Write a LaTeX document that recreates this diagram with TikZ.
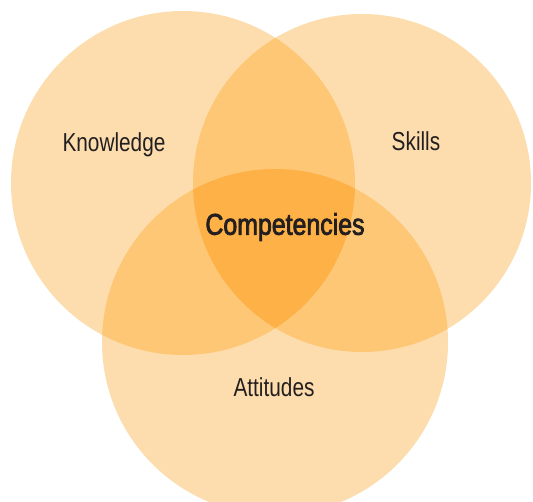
\documentclass[tikz,border=0pt]{standalone}
\usepackage{fontspec}
\setmainfont[FakeStretch=0.8]{Liberation Sans}
\newfontfamily\medfont[FakeStretch=0.83,FakeBold=2.5]{Liberation Sans}
\begin{document}
\begin{tikzpicture}[x=1pt,y=-1pt,
  lbl/.style={text=labelgray,font=\fontsize{26}{28}\selectfont,inner sep=0pt},
  centerlbl/.style={text=labelgray,font=\medfont\fontsize{30}{32}\selectfont,inner sep=0pt}]
\definecolor{singlec}{RGB}{253,221,174}
\definecolor{doublec}{RGB}{253,199,117}
\definecolor{triplec}{RGB}{253,177,70}
\definecolor{labelgray}{RGB}{35,31,32}
\def\cA{(183,183) circle[radius=172]}
\def\cB{(362,183) circle[radius=169]}
\def\cC{(275,342) circle[radius=173]}
\useasboundingbox (0,0) rectangle (533,501);
\fill[white] (0,0) rectangle (533,501);
\fill[singlec] \cA;
\fill[singlec] \cB;
\fill[singlec] \cC;
\begin{scope}\clip \cA; \fill[doublec] \cB; \fill[doublec] \cC; \end{scope}
\begin{scope}\clip \cB; \fill[doublec] \cC; \end{scope}
\begin{scope}\clip \cA; \clip \cB; \fill[triplec] \cC; \end{scope}
\node[lbl] (knowledge) at (114,145) {Knowledge};
\node[lbl] (skills) at (416,141) {Skills};
\node[centerlbl] (comp) at (285,227) {Competencies};
\node[lbl] (attitudes) at (274,387) {Attitudes};
\end{tikzpicture}
\end{document}
